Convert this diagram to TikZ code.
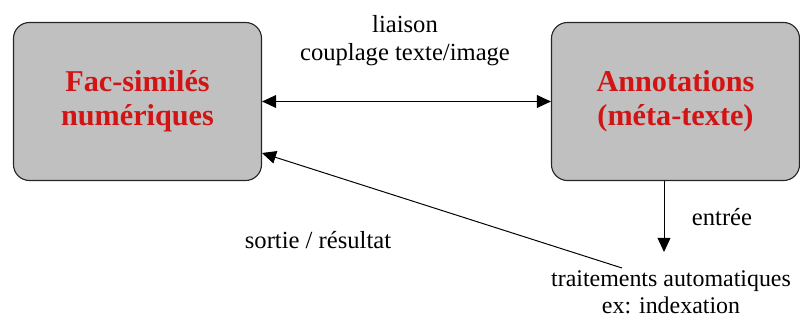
\documentclass[tikz,border=0pt]{standalone}
\usepackage{fontspec}
\setmainfont{Liberation Serif}
\usepackage{tikz}
\usetikzlibrary{arrows.meta}
\definecolor{boxgray}{RGB}{192,192,192}
\definecolor{boxred}{RGB}{210,20,20}

\begin{document}
\begin{tikzpicture}[x=0.025cm,y=-0.025cm,
  bloc/.style={draw=black!85,fill=boxgray,rounded corners=0.4cm,line width=0.8pt,
    minimum width=6.2cm,minimum height=3.95cm,align=center,
    text=boxred,font=\bfseries\fontsize{21.5}{24}\selectfont},
  label/.style={align=center,font=\fontsize{17.5}{20}\selectfont},
  fleche/.style={line width=0.7pt,-{Triangle[length=0.35cm,width=0.32cm]}}]
\useasboundingbox (0,0) rectangle (800,321);
%\coordinate at (0,0);
\node[bloc] at (137.5,101.5) (Facsim) {Fac-similés\\numériques};
\node[bloc] at (675.5,101.5) (Annot) {Annotations\\(méta-texte)};
\node[label] at (405,41) (Liaison) {liaison\\couplage texte/image};
\node[label,font=\fontsize{17}{19}\selectfont,anchor=south,inner sep=0pt] at (671,314) (Traitement) {traitements automatiques\\ex: indexation};
\node[label] at (722,217) (Entree) {entrée};
\node[label] at (318,240) (Sortie) {sortie / résultat};
\coordinate (Bas) at (664,252);
\coordinate (Depart) at (622,268);
\coordinate (Arrivee) at (262,153);
\draw[fleche,{Triangle[length=0.35cm,width=0.32cm]}-{Triangle[length=0.35cm,width=0.32cm]}] (Facsim.east) -- (Annot.west);
\draw[fleche] (Annot.south -| Bas) -- (Bas);
\draw[fleche] (Depart) -- (Arrivee);
\end{tikzpicture}
\end{document}
